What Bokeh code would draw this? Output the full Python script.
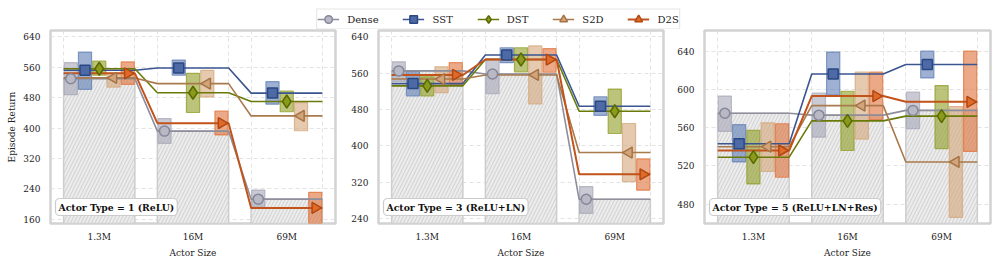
import numpy as np
from bokeh.plotting import figure
from bokeh.layouts import column, row
from bokeh.models import Label, Legend, LegendItem, FixedTicker, Range1d
from bokeh.embed import file_html
from bokeh.resources import INLINE

# ---------------- data ----------------
sizes = ["1.3M", "16M", "69M"]
series = ["Dense", "SST", "DST", "S2D", "D2S"]
actor_types = ["Actor Type = 1 (ReLU)", "Actor Type = 3 (ReLU+LN)", "Actor Type = 5 (ReLU+LN+Res)"]

relu_mean = {"Dense": [530, 392, 213], "SST": [552, 558, 492], "DST": [556, 493, 470],
             "S2D": [532, 517, 432], "D2S": [544, 413, 190]}
relu_lo = {"Dense": [488, 360, 193], "SST": [502, 539, 463], "DST": [539, 441, 443],
           "S2D": [508, 482, 393], "D2S": [515, 382, 140]}
relu_hi = {"Dense": [572, 425, 237], "SST": [600, 579, 522], "DST": [576, 544, 497],
           "S2D": [544, 552, 467], "D2S": [574, 445, 231]}

ln_mean = {"Dense": [565, 558, 282], "SST": [537, 600, 487], "DST": [532, 590, 476],
           "S2D": [547, 556, 385], "D2S": [556, 590, 337]}
ln_lo = {"Dense": [542, 515, 251], "SST": [510, 583, 467], "DST": [510, 563, 427],
         "S2D": [517, 492, 321], "D2S": [535, 562, 302]}
ln_hi = {"Dense": [585, 592, 310], "SST": [564, 616, 508], "DST": [552, 616, 525],
         "S2D": [574, 620, 449], "D2S": [583, 614, 371]}

res_mean = {"Dense": [575, 573, 578], "SST": [543, 616, 626], "DST": [529, 567, 572],
            "S2D": [540, 583, 524], "D2S": [536, 593, 587]}
res_lo = {"Dense": [556, 550, 559], "SST": [524, 594, 612], "DST": [501, 536, 538],
          "S2D": [514, 548, 466], "D2S": [508, 568, 535]}
res_hi = {"Dense": [593, 596, 597], "SST": [563, 639, 640], "DST": [557, 598, 604],
          "S2D": [565, 618, 582], "D2S": [564, 618, 640]}

relu_ticks = [160, 240, 320, 400, 480, 560, 640]
ln_ticks = [240, 320, 400, 480, 560, 640]
res_ticks = [480, 520, 560, 600, 640]

# ---------------- style ----------------
FONT = "DejaVu Serif"
styles = {
    "Dense": dict(marker="circle", angle=0.0, line="#8e8e9c", fill="#b9b9c6", edge="#86869a", box="#a7a7b8", size=10, lw=1.6),
    "SST": dict(marker="square", angle=0.0, line="#3a5590", fill="#4d6aa6", edge="#2b4882", box="#5f7db4", size=10, lw=1.6),
    "DST": dict(marker="diamond", angle=0.0, line="#6a7a08", fill="#8a9b1c", edge="#5a6800", box="#8f9c24", size=13, lw=1.6),
    "S2D": dict(marker="triangle", angle=np.pi / 2, line="#a87a4c", fill="#d2a47a", edge="#a47446", box="#d4a67a", size=11, lw=1.6),
    "D2S": dict(marker="triangle", angle=-np.pi / 2, line="#c2531a", fill="#e06b28", edge="#b04812", box="#df7038", size=11, lw=2.0),
}

HALF = 0.38
SLOT = 2 * HALF / 5
x_pos = np.arange(len(sizes))


def make_panel(mean, lo, hi, ticks, yr, title, fw, left, right, ylabel):
    p = figure(frame_width=fw, frame_height=193, output_backend="svg", toolbar_location=None,
               x_range=Range1d(-0.52, 2.52), y_range=Range1d(*yr),
               min_border_left=left, min_border_right=right, min_border_top=1, min_border_bottom=34)
    p.outline_line_color = "#d2d2d2"
    p.outline_line_width = 2.5
    p.background_fill_color = "white"

    # Dense hatched bars
    p.vbar(x=x_pos, width=2 * HALF, bottom=0, top=mean["Dense"], fill_color="#ececec",
           line_color="#cdcdcd", line_width=1.5, hatch_pattern="/", hatch_color="#c8c8c8",
           hatch_scale=7, hatch_weight=0.8)

    # error boxes
    for k, s in enumerate(series):
        st = styles[s]
        xs = x_pos + (k - 2) * SLOT
        p.vbar(x=xs, width=SLOT * 0.92, bottom=lo[s], top=hi[s], fill_color=st["box"],
               fill_alpha=0.6, line_color=st["box"], line_alpha=0.75, line_width=1.2)

    # step lines
    for s in series:
        st = styles[s]
        lx, ly = [], []
        for i, v in zip(x_pos, mean[s]):
            lx += [i - HALF, i + HALF]
            ly += [v, v]
        p.line(lx, ly, line_color=st["line"], line_width=st["lw"])

    # markers
    for k, s in enumerate(series):
        st = styles[s]
        xs = x_pos + (k - 2) * SLOT
        p.scatter(xs, mean[s], marker=st["marker"], angle=st["angle"], size=st["size"],
                  fill_color=st["fill"], line_color=st["edge"], line_width=1.5)

    p.xaxis.ticker = FixedTicker(ticks=list(x_pos))
    p.xaxis.major_label_overrides = {int(i): lab for i, lab in zip(x_pos, sizes)}
    p.yaxis.ticker = FixedTicker(ticks=ticks)
    p.xgrid.ticker = FixedTicker(ticks=[float(i + d) for i in x_pos for d in (-HALF, HALF)])
    for ax in p.axis:
        ax.axis_line_color = None
        ax.major_tick_line_color = None
        ax.minor_tick_line_color = None
        ax.major_tick_out = 0
        ax.major_tick_in = 0
        ax.minor_tick_out = 0
        ax.minor_tick_in = 0
        ax.major_label_text_font = FONT
        ax.major_label_text_font_size = "9px"
        ax.major_label_text_color = "#222222"
        ax.axis_label_text_font = FONT
        ax.axis_label_text_font_size = "9px"
        ax.axis_label_text_font_style = "normal"
        ax.axis_label_text_color = "#222222"
    p.xaxis.major_label_standoff = 8
    p.xaxis.axis_label = "Actor Size"
    p.xaxis.axis_label_standoff = 3
    p.yaxis.major_label_standoff = 10
    if ylabel:
        p.yaxis.axis_label = ylabel
        p.yaxis.axis_label_standoff = 3
    p.grid.grid_line_color = "#dcdcdc"
    p.grid.grid_line_dash = "4 3"
    p.grid.grid_line_width = 0.8

    p.add_layout(Label(x=5, y=8, x_units="screen", y_units="screen", text=title,
                       text_font=FONT, text_font_size="9.3px", text_font_style="bold",
                       text_color="#111111", background_fill_color="white",
                       border_line_color="#cccccc", border_line_width=1.2,
                       border_radius=4, padding=3))
    return p


p1 = make_panel(relu_mean, relu_lo, relu_hi, relu_ticks, (149, 656.7), actor_types[0], 285, 50, 5, "Episode Return")
p2 = make_panel(ln_mean, ln_lo, ln_hi, ln_ticks, (228.6, 654), actor_types[1], 285, 38, 5, None)
p3 = make_panel(res_mean, res_lo, res_hi, res_ticks, (459.6, 661.6), actor_types[2], 286, 36, 4, None)

# ---------------- legend ----------------
lf = figure(frame_width=980, frame_height=21, output_backend="svg", toolbar_location=None,
            x_range=Range1d(0, 1), y_range=Range1d(0, 1), min_border=0, min_border_left=8,
            min_border_top=8, x_axis_location=None, y_axis_location=None)
lf.outline_line_color = None
lf.grid.visible = False
items = []
for s in series:
    st = styles[s]
    r1 = lf.line([-5, -4], [-5, -4], line_color=st["line"], line_width=st["lw"])
    r2 = lf.scatter([-5], [-5], marker=st["marker"], angle=st["angle"], size=st["size"],
                    fill_color=st["fill"], line_color=st["edge"], line_width=1.5)
    items.append(LegendItem(label=s, renderers=[r1, r2]))
leg = Legend(items=items, orientation="horizontal", location="center",
             label_text_font=FONT, label_text_font_size="10px", label_text_color="#222222",
             glyph_width=22, glyph_height=19, label_height=14, label_standoff=8,
             spacing=24, padding=0, margin=0, border_line_color="#cccccc",
             border_line_width=1.2, background_fill_color="white")
lf.add_layout(leg, "center")

layout = column(lf, row(p1, p2, p3))
open("out.html", "w").write(file_html(layout, INLINE))
